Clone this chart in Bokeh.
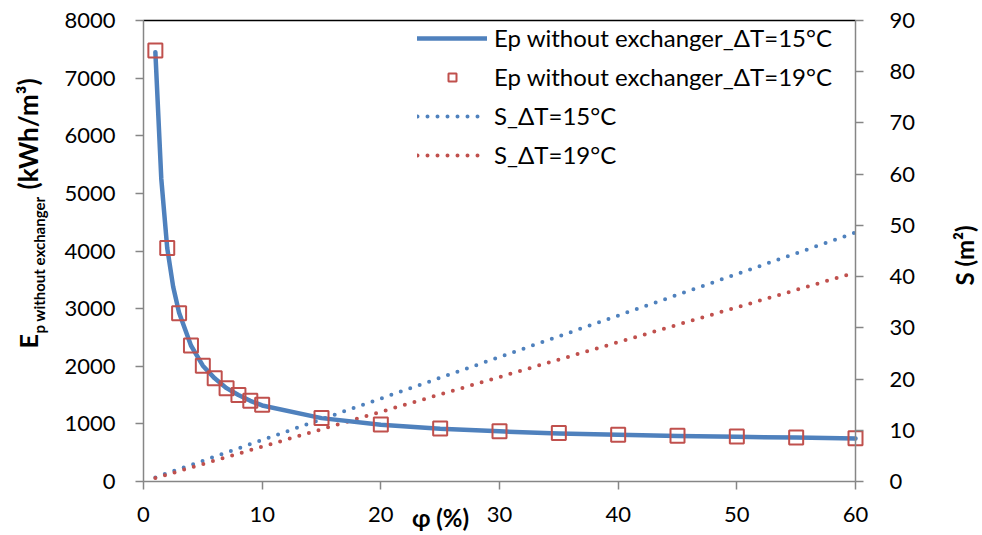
import math
from bokeh.plotting import figure
from bokeh.models import (Range1d, LinearAxis, FixedTicker, Label,
                          Legend, LegendItem)
from bokeh.embed import file_html
from bokeh.resources import INLINE

# ---- data ----
phi_line = [1, 1.5, 2, 2.5, 3, 4, 5, 6, 7, 8, 9, 10, 15, 20, 25, 30, 35, 40, 45, 50, 55, 60]
ep_15 = [7450, 5250, 4050, 3380, 2930, 2360, 2010, 1790, 1620, 1500, 1400, 1320,
         1100, 985, 915, 870, 835, 810, 790, 775, 762, 748]

phi_sq = [1, 2, 3, 4, 5, 6, 7, 8, 9, 10, 15, 20, 25, 30, 35, 40, 45, 50, 55, 60]
ep_19 = [7480, 4050, 2920, 2360, 2010, 1790, 1620, 1500, 1400, 1330,
         1100, 990, 920, 870, 840, 810, 795, 780, 765, 750]

phi_s = [1, 10, 20, 30, 40, 50, 60]
s_15 = [0.8, 8.1, 16.2, 24.3, 32.4, 40.5, 48.6]
s_19 = [0.68, 6.8, 13.6, 20.4, 27.2, 34.0, 40.8]

x_ticks = [0, 10, 20, 30, 40, 50, 60]
ep_ticks = [0, 1000, 2000, 3000, 4000, 5000, 6000, 7000, 8000]
s_ticks = [0, 10, 20, 30, 40, 50, 60, 70, 80, 90]

labels = ["Ep without exchanger_ΔT=15°C", "Ep without exchanger_ΔT=19°C",
          "S_ΔT=15°C", "S_ΔT=19°C"]

BLUE = "#4F81BD"
RED = "#C0504D"
AXIS_GRAY = "#868686"
FONT = "Lato"

# ---- layout (pixels) ----
W, H = 982, 535
PL, PR, PT, PB = 143, 855, 20, 481        # plot area edges on the canvas

x0, x1 = x_ticks[0], x_ticks[-1]
y0, y1 = ep_ticks[0], ep_ticks[-1]
s0, s1 = s_ticks[0], s_ticks[-1]
kx = (PR - PL) / (x1 - x0)
ky = (PB - PT) / (y1 - y0)
ks = (PB - PT) / (s1 - s0)

x_range = Range1d(x0 - PL / kx, x1 + (W - PR) / kx)
y_range = Range1d(y0 - (H - PB) / ky, y1 + PT / ky)
s_range = Range1d(s0 - (H - PB) / ks, s1 + PT / ks)

p = figure(width=W, height=H, x_range=x_range, y_range=y_range,
           output_backend="svg", toolbar_location=None,
           min_border=0, min_border_left=0, min_border_right=0,
           min_border_top=0, min_border_bottom=0)
p.extra_y_ranges = {"s": s_range}
p.xgrid.visible = False
p.ygrid.visible = False
p.outline_line_color = None
p.background_fill_color = "white"
p.border_fill_color = "white"

xax = p.xaxis[0]
yax = p.yaxis[0]
xax.ticker = FixedTicker(ticks=x_ticks)
yax.ticker = FixedTicker(ticks=ep_ticks)
xax.fixed_location = y0
xax.bounds = (x0, x1)
yax.fixed_location = x0
yax.bounds = (y0, y1)
right = LinearAxis(y_range_name="s", ticker=FixedTicker(ticks=s_ticks),
                   fixed_location=x1, bounds=(s0, s1))
p.add_layout(right, "right")

for ax in [xax, yax, right]:
    ax.axis_line_color = AXIS_GRAY
    ax.axis_line_width = 1.5
    ax.major_tick_line_color = AXIS_GRAY
    ax.major_tick_line_width = 1.5
    ax.major_tick_out = 8
    ax.major_tick_in = 0
    ax.minor_tick_line_color = None
    ax.major_label_text_font = FONT
    ax.major_label_text_font_size = "22px"
    ax.major_label_text_color = "black"
    ax.major_label_standoff = 20
xax.major_label_standoff = 17
right.major_label_standoff = 26

# top border of the plot area
p.line([x0, x1], [y1, y1], line_color="black", line_width=1.5)

r_s15 = p.line(phi_s, s_15, y_range_name="s", line_color=BLUE, line_width=4,
               line_dash="0 10", line_cap="round")
r_s19 = p.line(phi_s, s_19, y_range_name="s", line_color=RED, line_width=4,
               line_dash="0 10", line_cap="round")
r_ep = p.line(phi_line, ep_15, line_color=BLUE, line_width=4.5,
              line_cap="round", line_join="round")
r_sq = p.scatter(phi_sq, ep_19, marker="square", size=14, fill_color=None,
                 line_color=RED, line_width=2)

legend = Legend(items=[LegendItem(label=labels[0], renderers=[r_ep]),
                       LegendItem(label=labels[1], renderers=[r_sq]),
                       LegendItem(label=labels[2], renderers=[r_s15]),
                       LegendItem(label=labels[3], renderers=[r_s19])],
                location=(417, 366), orientation="vertical",
                label_text_font=FONT, label_text_font_size="24px",
                label_text_color="black",
                glyph_width=70, glyph_height=20, label_height=20,
                spacing=10, padding=5, margin=0, label_standoff=7,
                border_line_color=None, background_fill_alpha=0)
p.add_layout(legend)

# axis titles (canvas pixel positions)
title_kw = dict(x_units="canvas", y_units="canvas", text_font=FONT,
                text_font_style="bold", text_color="black")
p.add_layout(Label(x=27, y=348, text="E", angle=math.pi / 2,
                   text_font_size="25px", text_align="left",
                   text_baseline="alphabetic", **title_kw))
p.add_layout(Label(x=38, y=333, text="p without exchanger", angle=math.pi / 2,
                   text_font_size="15px", text_align="left",
                   text_baseline="alphabetic", **title_kw))
p.add_layout(Label(x=27, y=189, text="(kWh/m³)", angle=math.pi / 2,
                   text_font_size="26px", text_align="left",
                   text_baseline="alphabetic", **title_kw))
p.add_layout(Label(x=964, y=255, text="S (m²)", angle=math.pi / 2,
                   text_font_size="24px", text_align="center",
                   text_baseline="middle", **title_kw))
p.add_layout(Label(x=440, y=517, text="φ (%)",
                   text_font_size="24px", text_align="center",
                   text_baseline="middle", **title_kw))

open("out.html", "w").write(file_html(p, INLINE))
